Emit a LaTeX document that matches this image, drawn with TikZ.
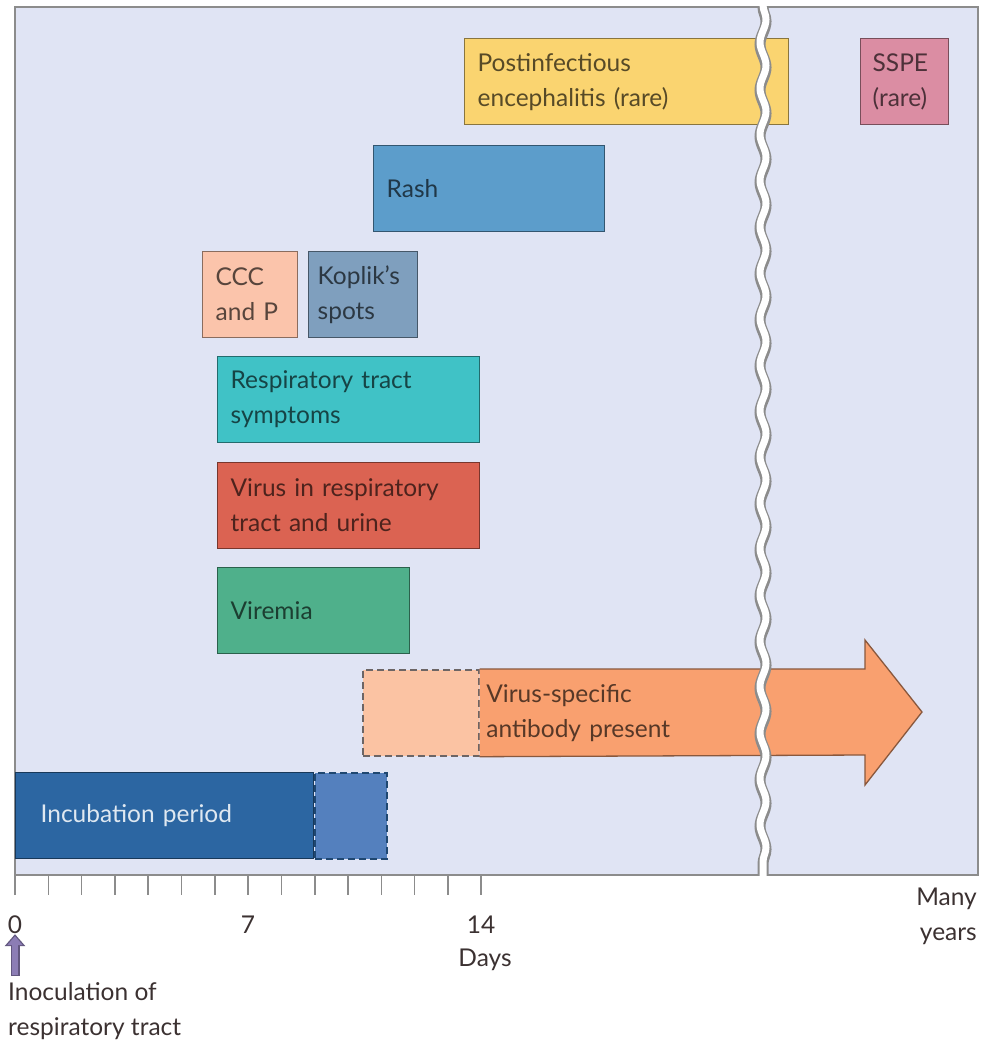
\documentclass[tikz,border=0pt]{standalone}
\usepackage{fontspec}
\setmainfont{Lato}
\usetikzlibrary{arrows.meta,positioning,calc,decorations.pathmorphing}
\definecolor{panelbg}{HTML}{E0E4F4}
\definecolor{panelline}{HTML}{8C8C8C}
\definecolor{inkgray}{HTML}{3B3131}
\definecolor{encyellow}{HTML}{FAD470}
\definecolor{ssspink}{HTML}{DB8DA3}
\definecolor{rashblue}{HTML}{5C9DCB}
\definecolor{cccsalmon}{HTML}{FBC4AB}
\definecolor{koplikblue}{HTML}{7F9FBE}
\definecolor{resptea}{HTML}{40C2C6}
\definecolor{virusred}{HTML}{DB6352}
\definecolor{viremiagreen}{HTML}{4FB08B}
\definecolor{abody}{HTML}{F9A06F}
\definecolor{abodylight}{HTML}{FBC3A3}
\definecolor{incblue}{HTML}{2C66A2}
\definecolor{incblue2}{HTML}{5480BE}
\definecolor{inocpurple}{HTML}{8C7DB5}
\newcommand{\boxfont}{\fontsize{24.5}{35}\selectfont}

\begin{document}
\begin{tikzpicture}[x=1pt,y=-1pt,>=Latex,
  phase/.style={draw=#1!55!black,fill=#1,text=#1!35!black,line width=1.3pt,
    anchor=north west,align=left,inner xsep=13pt,inner ysep=0pt,
    minimum height=86pt,font=\boxfont},
  dashedge/.style={dash pattern=on 7pt off 4pt,line width=1.7pt},
  axislabel/.style={font=\boxfont,text=inkgray,align=center,inner sep=0pt},
  axisline/.style={panelline,line width=1.6pt}]
\useasboundingbox (0,0) rectangle (980,1048);

% background panel
\fill[panelbg] (15,7) rectangle (978,875);
\draw[axisline] (15,895) -- (15,7) -- (978,7) -- (978,875) -- (15,875);
\foreach \d in {1,...,14}
  \draw[axisline] ({15+33.3*\d},875) -- ++(0,20);

% phases
\node[phase=encyellow,text width=298pt] (enc) at (464,38) {Postinfectious\\encephalitis (rare)};
\node[phase=ssspink,text width=64pt,inner xsep=12pt] (sspe) at (860,38) {SSPE\\(rare)};
\node[phase=rashblue,text width=205pt] (rash) at (373,145) {Rash};
\node[phase=cccsalmon,text width=69pt] (ccc) at (202,251) {CCC\\and P};
\node[phase=koplikblue,text width=91pt,inner xsep=9pt] (koplik) at (308,251) {Koplik's\\spots};
\node[phase=resptea,text width=236pt] (resp) at (217,356) {Respiratory tract\\symptoms};
\node[phase=virusred,text width=236pt] (virus) at (217,462) {Virus in respiratory\\tract and urine};
\node[phase=viremiagreen,text width=166pt] (viremia) at (217,567) {Viremia};

% antibody arrow
\node[phase=abodylight,draw=inkgray!75,dashedge,text width=90pt] (abpre) at (362,669) {};
\fill[abody,draw=abody!55!black,line width=1.3pt]
  (abpre.north east) -- (865,669) -- (865,640) -- (922,712) -- (865,785)
  -- (865,755) -- (abpre.south east);
\node[phase=abody,draw=none,fill=none,text width=300pt,inner xsep=6pt] (ab) at (abpre.north east) {Virus-specific\\antibody present};

% incubation
\node[phase=incblue,text=incblue!15!white,text width=248pt,inner xsep=25pt] (inc) at (15,772) {Incubation period};
\node[phase=incblue2,draw=incblue!70!black,dashedge,text width=46pt,anchor=north west] (incx) at (inc.north east) {};

% break in the time axis
\draw[decorate,decoration={snake,amplitude=3pt,segment length=46pt},panelline,line width=11pt] (763,7) -- (763,875);
\draw[decorate,decoration={snake,amplitude=3pt,segment length=46pt},white,line width=7pt] (763,5) -- (763,877);

% axis labels
\node[axislabel] (zero) at (15,925) {0};
\node[axislabel] (seven) at (248,925) {7};
\node[axislabel] (fourteen) at (481,925) {14};
\node[axislabel] (days) at (485,960) {Days};
\node[axislabel,align=right,anchor=north east] (many) at (977,888) {Many\\years};
\node[axislabel,align=left,anchor=north west] (inoc) at (8,982) {Inoculation of\\respiratory tract};
\coordinate (inocpt) at (15,976);
\draw[-{Triangle[width=20pt,length=12pt]},line width=9pt,inocpurple!70!black] (inocpt) -- (zero.south);
\draw[-{Triangle[width=15pt,length=9pt]},line width=6pt,inocpurple,shorten >=2pt,shorten <=1pt] (inocpt) -- (zero.south);
\end{tikzpicture}
\end{document}
